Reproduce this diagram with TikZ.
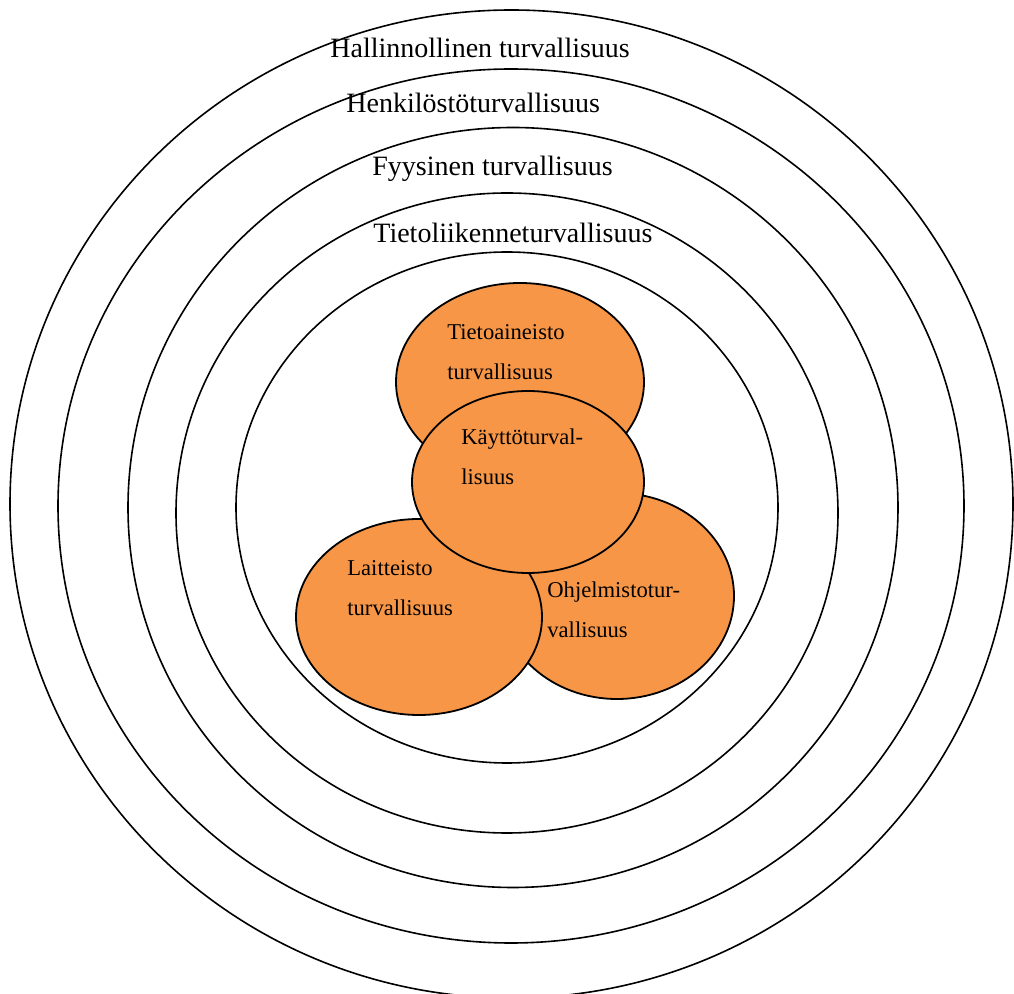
\documentclass[tikz,border=0pt]{standalone}
\usepackage{fontspec}
\setmainfont{Liberation Serif}
\usetikzlibrary{shapes.geometric}
\definecolor{torange}{HTML}{F79646}

\begin{document}
\begin{tikzpicture}[
  x=0.5pt, y=-0.5pt,
  ring/.style={draw=black, line width=0.8pt},
  blob/.style={ellipse, draw=black, fill=torange, line width=0.9pt,
               inner sep=0pt, outer sep=0pt},
  lvl/.style={font=\fontsize{14}{17}\selectfont, anchor=base west, inner sep=0pt},
  lbl/.style={font=\fontsize{11.3}{19.75}\selectfont, align=left,
              anchor=base west, inner sep=0pt},
]
\useasboundingbox (0,0) rectangle (1014,994);

% Sisäkkäiset kehät
\draw[ring] (511.5,504) ellipse [x radius=501.5, y radius=494];
\draw[ring] (511,506) ellipse [x radius=453, y radius=437];
\draw[ring] (513,507.5) ellipse [x radius=385, y radius=380];
\draw[ring] (507,513) ellipse [x radius=331, y radius=320];
\draw[ring] (507,507.5) ellipse [x radius=271, y radius=255.5];

% Kehien otsikot
\node[lvl] (hal) at (330,58) {Hallinnollinen turvallisuus};
\node[lvl] (hen) at (346,113) {Henkilöstöturvallisuus};
\node[lvl] (fyy) at (372,176) {Fyysinen turvallisuus};
\node[lvl] (tli) at (373,243) {Tietoliikenneturvallisuus};

% Ydin: neljä ellipsiä
\node[blob, minimum width=124pt, minimum height=99pt] (tieto) at (520,382) {};
\node[blob, minimum width=117pt, minimum height=103pt] (ohjelma) at (617,596) {};
\node[blob, minimum width=123pt, minimum height=98pt] (laite) at (419,617) {};
\node[blob, minimum width=116pt, minimum height=91pt] (kaytto) at (528,482) {};

% tekstit (base = viimeisen rivin peruslinja)
\node[lbl] (tieto-t) at (447,379.5) {Tietoaineisto\\turvallisuus};
\node[lbl] (kaytto-t) at (461,484.5) {Käyttöturval-\\lisuus};
\node[lbl] (laite-t) at (347,615.5) {Laitteisto\\turvallisuus};
\node[lbl] (ohjelma-t) at (547,637.5) {Ohjelmistotur-\\vallisuus};
\end{tikzpicture}
\end{document}
